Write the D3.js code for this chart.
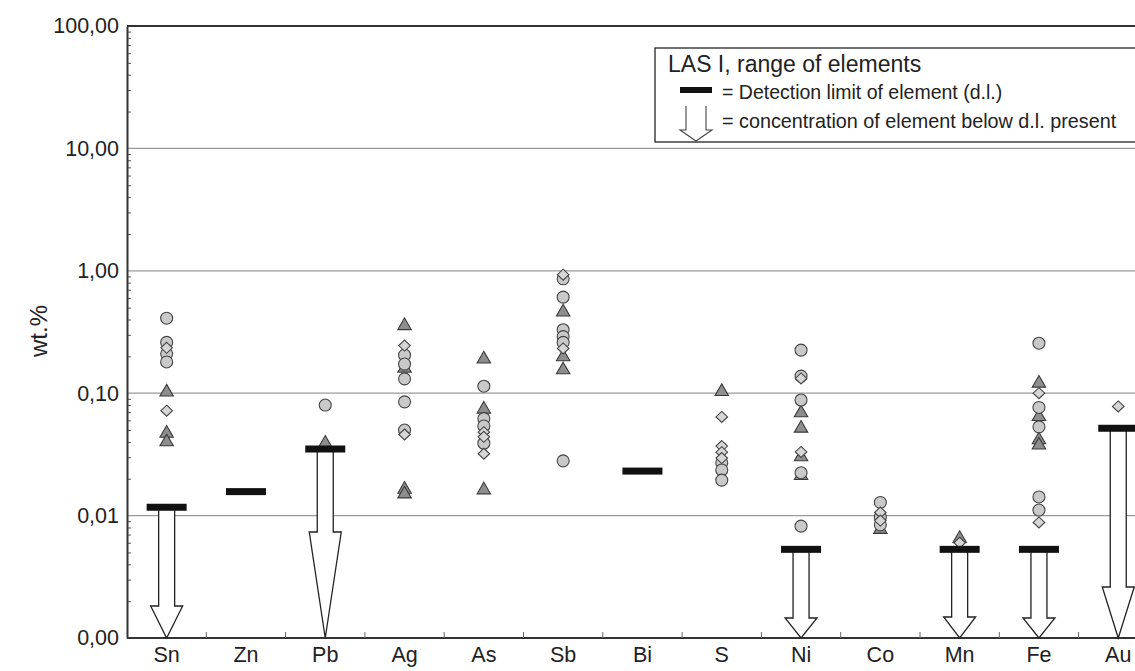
<!DOCTYPE html>
<html>
<head>
<meta charset="utf-8">
<script src="https://cdn.jsdelivr.net/npm/d3@7"></script>
<style>
  html, body { margin: 0; padding: 0; background: #fff; }
  svg { display: block; font-family: "Liberation Sans", Arial, sans-serif; }
</style>
</head>
<body>
<svg id="chart" width="1135" height="671"></svg>
<script>
// ---------------- DATA ----------------
const categories = ["Sn","Zn","Pb","Ag","As","Sb","Bi","S","Ni","Co","Mn","Fe","Au"];

// measured values (wt.%) per category, by marker type
const circleVals = [
  [0.41, 0.26, 0.21, 0.18],          // Sn
  [],                                  // Zn
  [0.080],                             // Pb
  [0.205, 0.173, 0.131, 0.085, 0.050], // Ag
  [0.114, 0.062, 0.054, 0.039],        // As
  [0.86, 0.61, 0.33, 0.29, 0.26, 0.028], // Sb
  [],                                  // Bi
  [0.027, 0.0236, 0.0195],             // S
  [0.225, 0.138, 0.088, 0.0224, 0.0082], // Ni
  [0.0128, 0.0097, 0.0084],            // Co
  [],                                  // Mn
  [0.256, 0.0765, 0.0531, 0.0142, 0.0111], // Fe
  []                                   // Au
];
const diamondVals = [
  [0.235, 0.072],
  [],
  [],
  [0.245, 0.046],
  [0.048, 0.044, 0.032],
  [0.93, 0.232],
  [],
  [0.064, 0.037, 0.033, 0.0295],
  [0.132, 0.0331],
  [0.0106, 0.0091],
  [0.0060],
  [0.100, 0.0088],
  [0.078]
];
const triangleVals = [
  [0.102, 0.047, 0.040],
  [],
  [0.039],
  [0.356, 0.16, 0.0164, 0.0150],
  [0.19, 0.074, 0.0162],
  [0.46, 0.198, 0.155],
  [],
  [0.103],
  [0.069, 0.0517, 0.0302, 0.0212],
  [0.0077],
  [0.0065],
  [0.1205, 0.0643, 0.0415, 0.0376],
  []
];
// detection limits (null = none)
const detectionLimits = [0.0117, 0.0157, 0.035, null, null, null, 0.0231, null, 0.0053, null, 0.0053, 0.0053, 0.0517];
// concentration below d.l. present
const belowDL = [true, false, true, false, false, false, false, false, true, false, true, true, true];

const yTickValues = [0.001, 0.01, 0.1, 1, 10, 100];
const yTickLabels = ["0,00", "0,01", "0,10", "1,00", "10,00", "100,00"];

// ---------------- STYLE ----------------
const arrowHeadLen = {Sn: 32, Pb: 106, Ni: 20, Mn: 21, Fe: 20, Au: 51};
const mLeft = 127, mTop = 26, mBottom = 638, bandW = 79.3;

const svg = d3.select("#chart");

const x = d3.scaleBand().domain(categories).range([mLeft, mLeft + bandW * categories.length]);
const y = d3.scaleLog().domain([0.001, 100]).range([mBottom, mTop]);
const xc = c => x(c) + x.bandwidth() / 2;

// gridlines
svg.append("g").selectAll("line")
  .data(yTickValues.slice(1, -1))
  .join("line")
  .attr("x1", mLeft).attr("x2", 1160)
  .attr("y1", d => y(d)).attr("y2", d => y(d))
  .attr("stroke", "#9a9a9a").attr("stroke-width", 1.2);

// top frame
svg.append("line").attr("x1", mLeft).attr("x2", 1160)
  .attr("y1", y(100)).attr("y2", y(100))
  .attr("stroke", "#333").attr("stroke-width", 2);

// minor log ticks (inside)
const minor = [];
for (let e = -3; e < 2; e++) for (let m = 2; m <= 9; m++) minor.push(m * Math.pow(10, e));
const minorAxis = d3.axisRight(y).tickValues(minor).tickSize(4).tickFormat("");
svg.append("g").attr("transform", `translate(${mLeft},0)`).call(minorAxis)
  .call(g => g.select(".domain").remove())
  .call(g => g.selectAll("line").attr("stroke", "#555").attr("stroke-width", 1));

// y axis with labels
const yAxis = d3.axisLeft(y).tickValues(yTickValues)
  .tickFormat((d, i) => yTickLabels[i]).tickSize(0).tickPadding(8);
svg.append("g").attr("transform", `translate(${mLeft},0)`).call(yAxis)
  .call(g => g.select(".domain").attr("stroke", "#333").attr("stroke-width", 2))
  .call(g => g.selectAll("text").attr("font-size", 21.5).attr("fill", "#222")
    .attr("font-family", "Liberation Sans, Arial, sans-serif"));

// x axis
const xAxis = d3.axisBottom(x).tickSize(0).tickPadding(9);
svg.append("g").attr("transform", `translate(0,${mBottom})`).call(xAxis)
  .call(g => g.select(".domain").remove())
  .call(g => g.selectAll("text").attr("font-size", 21.5).attr("fill", "#222")
    .attr("font-family", "Liberation Sans, Arial, sans-serif"));
svg.append("line").attr("x1", mLeft).attr("x2", 1160)
  .attr("y1", mBottom).attr("y2", mBottom)
  .attr("stroke", "#333").attr("stroke-width", 2);
// band boundary ticks (inward)
svg.append("g").selectAll("line")
  .data(categories.slice(1))
  .join("line")
  .attr("x1", d => x(d)).attr("x2", d => x(d))
  .attr("y1", mBottom).attr("y2", mBottom - 6)
  .attr("stroke", "#666").attr("stroke-width", 1);

// y title
svg.append("text")
  .attr("transform", `translate(47,331) rotate(-90)`)
  .attr("text-anchor", "middle")
  .attr("font-size", 24).attr("fill", "#222")
  .text("wt.%");

// ---------------- MARKS ----------------
const pts = (vals) => vals.flatMap((arr, i) => arr.map(v => ({c: categories[i], v})));

const gPts = svg.append("g");
// triangles
gPts.selectAll("path.tri").data(pts(triangleVals)).join("path")
  .attr("class", "tri")
  .attr("d", d3.symbol(d3.symbolTriangle, 78))
  .attr("transform", d => `translate(${xc(d.c)},${y(d.v)})`)
  .attr("fill", "#8e8e8e").attr("stroke", "#3a3a3a").attr("stroke-width", 1.1);
// circles
gPts.selectAll("circle").data(pts(circleVals)).join("circle")
  .attr("cx", d => xc(d.c)).attr("cy", d => y(d.v)).attr("r", 6)
  .attr("fill", "#c9c9c9").attr("stroke", "#444").attr("stroke-width", 1.1);
// diamonds
gPts.selectAll("path.dia").data(pts(diamondVals)).join("path")
  .attr("class", "dia")
  .attr("d", "M0,-5.5L5.8,0L0,5.5L-5.8,0Z")
  .attr("transform", d => `translate(${xc(d.c)},${y(d.v)})`)
  .attr("fill", "#d6d6d6").attr("stroke", "#444").attr("stroke-width", 1.1);

// arrows
const arrowPath = (cx, y0, y1, head, sw = 8, hw = 16) => {
  const hy = y1 - head;
  return `M${cx - sw},${y0}L${cx - sw},${hy}L${cx - hw},${hy}L${cx},${y1}L${cx + hw},${hy}L${cx + sw},${hy}L${cx + sw},${y0}`;
};
const arrowData = categories.map((c, i) => ({c, dl: detectionLimits[i], show: belowDL[i]}))
  .filter(d => d.show && d.dl != null);
svg.append("g").selectAll("path").data(arrowData).join("path")
  .attr("d", d => arrowPath(xc(d.c), y(d.dl), y(0.001), arrowHeadLen[d.c]))
  .attr("fill", "#fff").attr("stroke", "#222").attr("stroke-width", 1.3)
  .attr("stroke-linejoin", "miter");

// detection limit bars
const dlData = categories.map((c, i) => ({c, dl: detectionLimits[i]})).filter(d => d.dl != null);
svg.append("g").selectAll("rect").data(dlData).join("rect")
  .attr("x", d => xc(d.c) - 20).attr("width", 40)
  .attr("y", d => y(d.dl) - 3.5).attr("height", 7)
  .attr("fill", "#111");

// ---------------- LEGEND ----------------
const lg = svg.append("g");
lg.append("rect").attr("x", 655).attr("y", 48).attr("width", 520).attr("height", 94)
  .attr("fill", "#fff").attr("stroke", "#333").attr("stroke-width", 1.4);
lg.append("text").attr("x", 668).attr("y", 72).attr("font-size", 23).attr("fill", "#222")
  .text("LAS I, range of elements");
lg.append("rect").attr("x", 680).attr("y", 87).attr("width", 32).attr("height", 6).attr("fill", "#111");
lg.append("text").attr("x", 722).attr("y", 99).attr("font-size", 19.5).attr("fill", "#222")
  .text("= Detection limit of element (d.l.)");
lg.append("path").attr("d", arrowPath(696, 106, 141, 11, 10, 16))
  .attr("fill", "#fff").attr("stroke", "#444").attr("stroke-width", 1.1);
lg.append("text").attr("x", 722).attr("y", 128).attr("font-size", 19.8).attr("fill", "#222")
  .text("= concentration of element below d.l. present");
</script>
</body>
</html>
